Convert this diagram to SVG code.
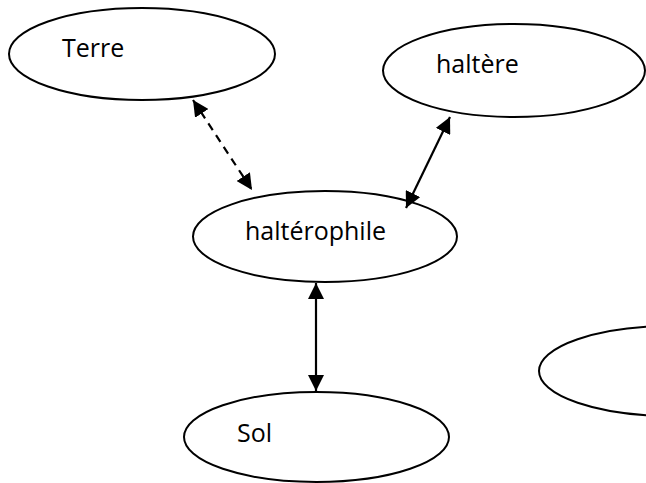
<svg xmlns="http://www.w3.org/2000/svg" width="646" height="483" viewBox="0 0 646 483">
<style>
.node ellipse{fill:#fff;stroke:#000;stroke-width:2}
.node text{font-family:"Open Sans","Liberation Sans",sans-serif;font-size:25px;fill:#000}
.conn line{stroke:#000;stroke-width:2.2;fill:none}
.dash{stroke-dasharray:8,6}
</style>
<defs>
<marker id="ah" markerUnits="userSpaceOnUse" markerWidth="17" markerHeight="16" refX="16" refY="8" orient="auto-start-reverse">
<path d="M0,0 L16,8 L0,16 z" fill="#000"/>
</marker>
</defs>
<rect width="646" height="483" fill="#fff"/>
<g id="terre" class="node"><ellipse cx="142" cy="54" rx="133" ry="46"/><text x="62" y="57">Terre</text></g>
<g id="haltere" class="node"><ellipse cx="514" cy="70.5" rx="131" ry="46.5"/><text x="436" y="73">haltère</text></g>
<g id="halterophile" class="node"><ellipse cx="325" cy="236.5" rx="132" ry="45.5"/><text x="245" y="240">haltérophile</text></g>
<g id="sol" class="node"><ellipse cx="316.5" cy="437" rx="132.5" ry="45"/><text x="237" y="442">Sol</text></g>
<g id="vide" class="node"><ellipse cx="671" cy="371" rx="132" ry="45"/></g>
<g id="connectors" class="conn">
<line class="dash" x1="193" y1="100" x2="252" y2="190" marker-start="url(#ah)" marker-end="url(#ah)"/>
<line x1="450" y1="117" x2="406" y2="208" marker-start="url(#ah)" marker-end="url(#ah)"/>
<line x1="316" y1="283" x2="316" y2="391" marker-start="url(#ah)" marker-end="url(#ah)"/>
</g>
</svg>
